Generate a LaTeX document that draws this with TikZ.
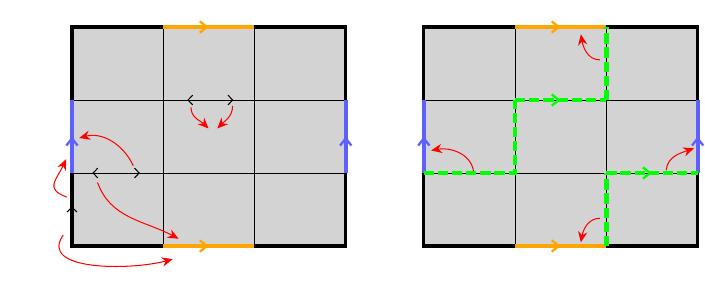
\documentclass[tikz,border=0pt]{standalone}
\usetikzlibrary{arrows.meta,decorations.markings}
\definecolor{cellgray}{RGB}{211,211,211}
\definecolor{edgeblue}{RGB}{95,95,255}
\definecolor{edgeorange}{RGB}{255,165,0}
\tikzset{
  >={Straight Barb[length=1.8pt,width=3.8pt]},
  midarrow/.style={postaction={decorate},
    decoration={markings,mark=at position 0.5 with
      {\arrow{Straight Barb[length=2.8pt,width=4.4pt,line width=0.9pt]}}}},
  redarrow/.style={red,-{Stealth[length=4.2pt,width=3.6pt]}},
  cutpath/.style={green,line width=1.7pt,dash pattern=on 4pt off 1.5pt},
  edgeline/.style={line width=1.6pt,midarrow},
}
\begin{document}
\begin{tikzpicture}
  \useasboundingbox (-0.986,-0.658) rectangle (8.671,3.370);
  % 两个网格
  \foreach \gx in {0,4.82} {
    \begin{scope}[xshift=\gx cm]
      \fill[cellgray] (0,0) rectangle (3.75,3);
      \foreach \x in {1.25,2.5}
        \draw (\x,0) -- (\x,3);
      \foreach \y in {1,2}
        \draw (0,\y) -- (3.75,\y);
      \draw[line width=1.2pt] (0,0) rectangle (3.75,3);
      % 粘合的边
      \draw[edgeorange,edgeline] (1.25,3) -- (2.5,3);
      \draw[edgeorange,edgeline] (1.25,0) -- (2.5,0);
      \draw[edgeblue,edgeline] (0,1) -- (0,2);
      \draw[edgeblue,edgeline] (3.75,1) -- (3.75,2);
    \end{scope}
  }
  % 左图: 小箭头
  \draw[<->] (1.58,2) -- (2.21,2);
  \draw[<->] (0.28,1) -- (0.93,1);
  \draw[->] (0,0) -- (0,0.54);
  % 左图: 红色箭头
  \draw[redarrow] (1.63,1.9) to[out=-90,in=135] (1.87,1.61);
  \draw[redarrow] (2.2,1.92) to[out=-90,in=45] (1.99,1.61);
  \draw[redarrow] (0.84,1.1) to[out=115,in=15] (0.1,1.48);
  \draw[redarrow] (-0.07,0.67) to[out=160,in=245,looseness=1.6] (-0.08,1.19);
  \draw[redarrow] (0.35,0.87) to[out=-70,in=152] (1.46,0.1);
  \draw[redarrow] (-0.12,0.15) to[out=235,in=195] (1.38,-0.18);
  % 右图
  \begin{scope}[xshift=4.82cm]
    % 切割路径
    \draw[cutpath] (0,1) -- (1.25,1) -- (1.25,2);
    \draw[cutpath,midarrow] (1.25,2) -- (2.5,2);
    \draw[cutpath] (2.5,2) -- (2.5,3);
    \draw[cutpath] (2.5,0) -- (2.5,1);
    \draw[cutpath,midarrow] (2.5,1) -- (3.75,1);
    % 红色箭头
    \draw[redarrow] (2.41,2.55) to[out=180,in=-80] (2.15,2.9);
    \draw[redarrow] (0.68,1.03) to[out=100,in=10] (0.1,1.31);
    \draw[redarrow] (3.32,1.04) to[out=85,in=200] (3.7,1.34);
    \draw[redarrow] (2.41,0.38) to[out=180,in=80] (2.15,0.05);
  \end{scope}
\end{tikzpicture}
\end{document}
